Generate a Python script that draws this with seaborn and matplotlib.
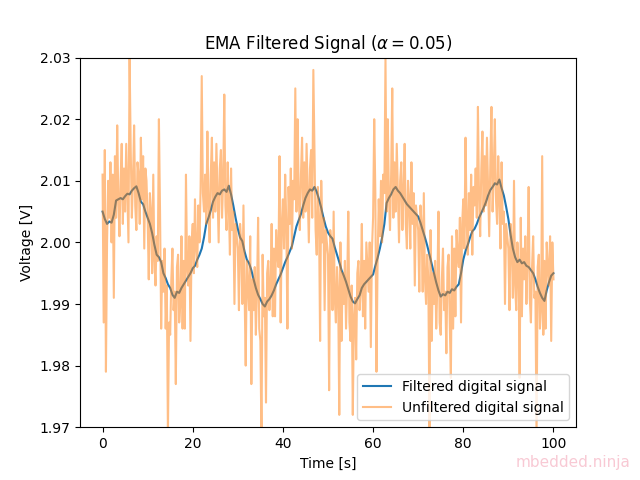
import numpy as np
import pandas as pd
import matplotlib
matplotlib.use("Agg")
import matplotlib.pyplot as plt
import seaborn as sns

# Filtered signal (EMA) at 0.5 s steps
time_filtered = [i * 0.5 for i in range(201)]
filtered = [
    2.0050, 2.0038, 2.0030, 2.0034, 2.0032, 2.0045, 2.0068, 2.0070, 2.0072, 2.0070,
    2.0075, 2.0079, 2.0078, 2.0084, 2.0088, 2.0091, 2.0080, 2.0066, 2.0062, 2.0050,
    2.0040, 2.0030, 2.0015, 1.9996, 1.9980, 1.9976, 1.9968, 1.9950, 1.9942, 1.9932,
    1.9926, 1.9915, 1.9910, 1.9920, 1.9918, 1.9926, 1.9932, 1.9938, 1.9944, 1.9950,
    1.9958, 1.9962, 1.9972, 1.9980, 1.9990, 2.0008, 2.0030, 2.0040, 2.0052, 2.0066,
    2.0074, 2.0080, 2.0078, 2.0084, 2.0086, 2.0082, 2.0092, 2.0078, 2.0060, 2.0040,
    2.0022, 2.0008, 2.0002, 1.9985, 1.9972, 1.9966, 1.9955, 1.9940, 1.9926, 1.9915,
    1.9908, 1.9900, 1.9896, 1.9904, 1.9908, 1.9914, 1.9922, 1.9932, 1.9940, 1.9948,
    1.9958, 1.9968, 1.9976, 1.9985, 1.9994, 2.0010, 2.0026, 2.0036, 2.0046, 2.0060,
    2.0072, 2.0080, 2.0086, 2.0084, 2.0090, 2.0082, 2.0070, 2.0056, 2.0040, 2.0026,
    2.0016, 2.0010, 2.0006, 1.9992, 1.9980, 1.9968, 1.9955, 1.9946, 1.9936, 1.9924,
    1.9912, 1.9904, 1.9901, 1.9908, 1.9914, 1.9926, 1.9932, 1.9936, 1.9940, 1.9944,
    1.9948, 1.9962, 1.9975, 1.9990, 2.0008, 2.0030, 2.0064, 2.0072, 2.0078, 2.0086,
    2.0090, 2.0084, 2.0080, 2.0074, 2.0068, 2.0062, 2.0058, 2.0054, 2.0050, 2.0046,
    2.0042, 2.0032, 2.0020, 2.0008, 1.9995, 1.9980, 1.9965, 1.9950, 1.9935, 1.9922,
    1.9912, 1.9916, 1.9914, 1.9920, 1.9918, 1.9924, 1.9922, 1.9928, 1.9932, 1.9950,
    1.9972, 1.9986, 1.9996, 2.0008, 2.0018, 2.0022, 2.0030, 2.0040, 2.0048, 2.0056,
    2.0065, 2.0076, 2.0085, 2.0090, 2.0096, 2.0094, 2.0102, 2.0088, 2.0076, 2.0058,
    2.0038, 2.0012, 1.9990, 1.9976, 1.9968, 1.9972, 1.9966, 1.9968, 1.9962, 1.9960,
    1.9955, 1.9950, 1.9940, 1.9928, 1.9918, 1.9910, 1.9905, 1.9922, 1.9935, 1.9946,
    1.9950,
]

# Unfiltered (noisy) signal at 0.25 s steps
time_raw = [i * 0.25 for i in range(401)]
unfiltered = [
    # 0 - 4.75 s
    2.011, 1.987, 2.015, 1.979, 2.000, 2.010, 2.004, 2.013, 2.000, 2.011,
    1.991, 2.014, 2.004, 2.019, 2.007, 2.001, 2.010, 2.016, 2.003, 2.012,
    # 5 - 9.75 s
    2.005, 2.016, 2.008, 2.000, 2.030, 2.015, 2.004, 2.010, 2.019, 2.006,
    2.002, 2.013, 2.011, 2.003, 2.017, 2.007, 2.014, 1.999, 2.012, 2.010,
    # 10 - 14.75 s
    2.004, 1.994, 2.008, 2.005, 1.995, 2.011, 1.997, 1.993, 2.001, 1.997,
    2.020, 2.005, 1.986, 1.997, 1.992, 1.999, 1.986, 1.993, 1.969, 1.987,
    # 15 - 19.75 s
    1.985, 1.994, 1.999, 1.989, 1.992, 1.977, 1.996, 1.998, 1.987, 1.990,
    2.001, 1.986, 1.997, 1.986, 2.011, 1.996, 1.993, 2.001, 1.984, 2.000,
    # 20 - 24.75 s
    2.003, 1.995, 2.007, 1.999, 1.996, 2.006, 2.000, 2.009, 2.027, 2.008,
    2.005, 2.011, 2.003, 2.018, 2.006, 2.000, 2.011, 2.017, 2.004, 2.013,
    # 25 - 29.75 s
    2.005, 2.016, 2.008, 2.000, 2.012, 2.015, 2.004, 2.010, 2.024, 2.006,
    2.002, 2.013, 2.006, 1.998, 2.012, 2.002, 2.005, 1.990, 2.003, 2.001,
    # 30 - 34.75 s
    1.999, 1.989, 2.003, 2.000, 1.990, 2.006, 1.992, 1.980, 1.997, 1.993,
    1.989, 2.001, 1.977, 1.994, 1.989, 1.996, 1.985, 1.992, 2.004, 1.986,
    # 35 - 39.75 s
    1.984, 1.968, 1.998, 1.988, 1.991, 1.974, 1.995, 1.997, 1.989, 1.992,
    2.003, 1.988, 1.999, 1.988, 2.002, 1.998, 1.996, 2.014, 1.987, 2.003,
    # 40 - 44.75 s
    2.007, 1.999, 2.011, 2.003, 1.986, 2.009, 2.003, 2.012, 1.999, 2.010,
    2.007, 2.025, 2.005, 2.020, 2.008, 2.002, 2.011, 2.017, 2.004, 2.013,
    # 45 - 49.75 s
    2.005, 2.016, 2.008, 2.000, 2.012, 2.015, 2.004, 2.028, 2.015, 2.002,
    1.998, 2.009, 2.004, 1.984, 2.010, 2.000, 2.004, 1.989, 2.002, 2.000,
    # 50 - 54.75 s
    1.998, 1.976, 2.002, 1.999, 1.989, 2.005, 1.991, 1.987, 1.996, 1.992,
    1.972, 2.000, 1.984, 1.995, 1.990, 1.997, 1.986, 1.993, 2.005, 1.987,
    # 55 - 59.75 s
    1.984, 1.993, 1.972, 1.988, 1.991, 1.981, 1.995, 1.997, 1.989, 1.992,
    2.003, 1.988, 1.997, 1.986, 2.000, 1.996, 1.992, 2.000, 1.983, 1.999,
    # 60 - 64.75 s
    2.004, 2.020, 2.008, 1.979, 1.997, 2.007, 2.001, 2.010, 2.000, 2.011,
    2.008, 2.030, 2.005, 2.020, 2.008, 2.002, 2.011, 2.025, 2.004, 2.013,
    # 65 - 69.75 s
    2.005, 2.016, 2.008, 2.000, 2.010, 2.013, 2.002, 2.008, 2.016, 2.003,
    1.999, 2.010, 2.007, 1.999, 2.013, 2.003, 2.008, 1.993, 2.006, 2.004,
    # 70 - 74.75 s
    2.002, 1.992, 2.006, 2.003, 1.992, 2.008, 1.994, 1.990, 1.998, 1.994,
    1.970, 2.002, 1.984, 1.995, 1.990, 1.997, 1.986, 1.993, 2.005, 1.987,
    # 75 - 79.75 s
    1.985, 1.994, 1.999, 1.989, 1.992, 1.982, 1.996, 1.998, 1.987, 1.978,
    2.001, 1.986, 1.999, 1.988, 2.002, 1.998, 1.996, 2.004, 1.987, 2.003,
    # 80 - 84.75 s
    2.007, 1.999, 2.017, 2.003, 1.998, 2.008, 2.002, 2.011, 1.998, 2.009,
    2.006, 2.012, 2.004, 2.022, 2.007, 2.001, 2.012, 2.018, 2.005, 2.014,
    # 85 - 89.75 s
    2.006, 2.017, 2.009, 2.001, 2.013, 2.022, 2.005, 2.011, 2.020, 2.007,
    2.003, 2.014, 2.007, 1.999, 2.013, 2.003, 2.005, 1.990, 2.003, 2.001,
    # 90 - 94.75 s
    1.999, 1.989, 2.003, 2.000, 1.991, 2.010, 1.993, 1.989, 2.000, 1.996,
    1.978, 2.004, 1.988, 1.999, 1.994, 2.001, 1.990, 1.997, 2.009, 1.991,
    # 95 - 99.75 s
    1.987, 1.996, 2.001, 1.991, 1.992, 1.968, 1.996, 1.998, 1.986, 1.989,
    2.014, 1.985, 1.997, 1.986, 2.000, 1.996, 1.993, 2.001, 1.984, 2.000,
    # 100 s
    1.994,
]

df_f = pd.DataFrame({"t": time_filtered, "v": filtered})
df_u = pd.DataFrame({"t": time_raw, "v": unfiltered})

fig, ax = plt.subplots(figsize=(6.4, 4.8), dpi=100)
sns.lineplot(data=df_f, x="t", y="v", ax=ax, color="C0", label="Filtered digital signal")
sns.lineplot(data=df_u, x="t", y="v", ax=ax, color="C1", alpha=0.5, label="Unfiltered digital signal")

ax.set_ylim(1.97, 2.03)
ax.set_xlabel("Time [s]")
ax.set_ylabel("Voltage [V]")
ax.set_title(r"EMA Filtered Signal ($\alpha = 0.05$)")
ax.legend(loc="lower right")

fig.text(0.985, 0.02, "mbedded.ninja", ha="right", va="bottom",
         color="#f4a6b8", alpha=0.6, fontsize=11)

fig.savefig("out.png", dpi=100)
